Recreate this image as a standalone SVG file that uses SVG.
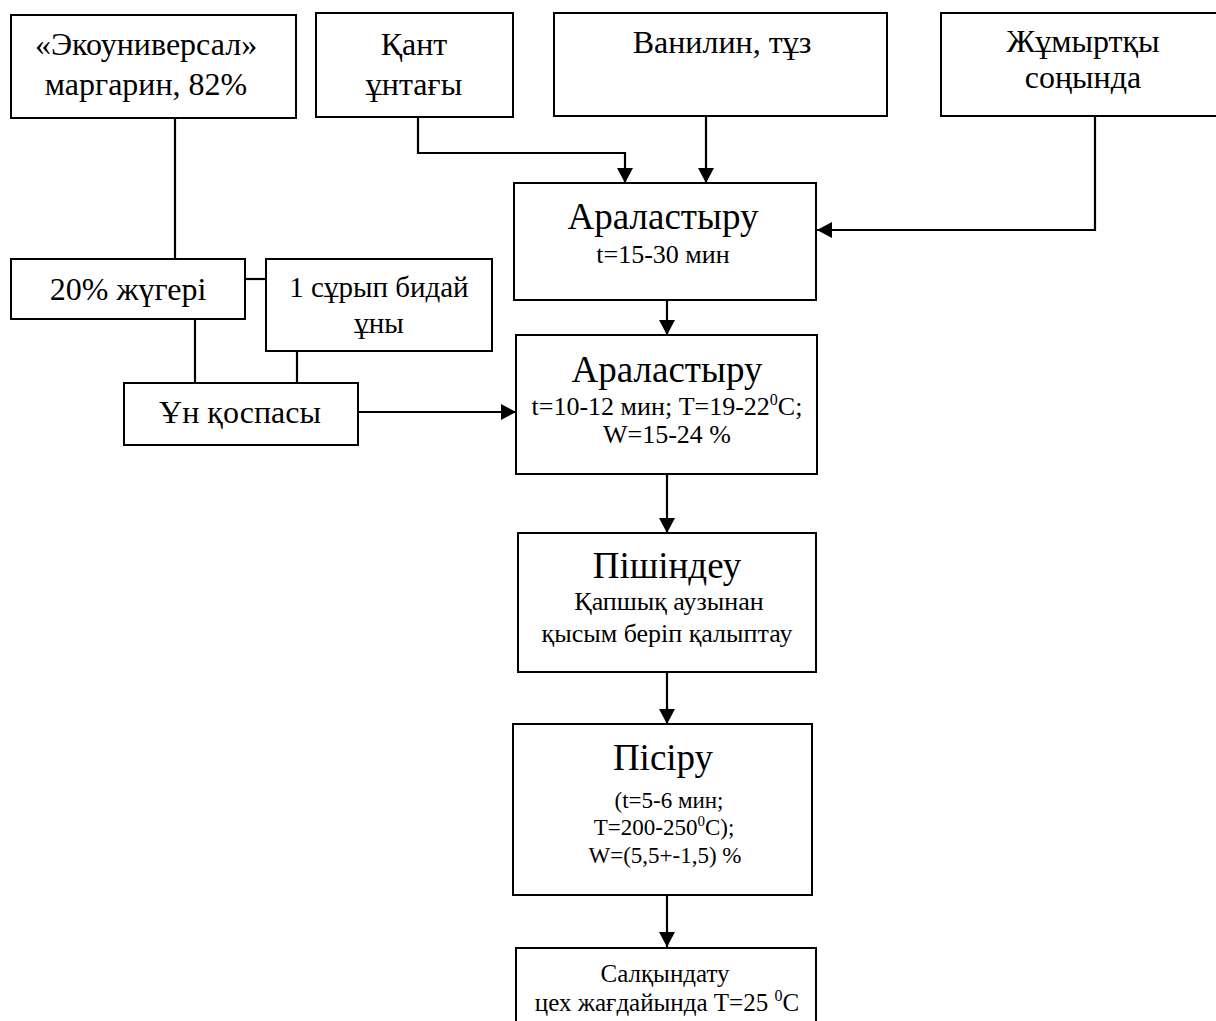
<svg xmlns="http://www.w3.org/2000/svg" width="1216" height="1021" viewBox="0 0 1216 1021">
<style>
rect{fill:#fff;stroke:#000;stroke-width:2}
text{font-family:"Liberation Serif","Times New Roman",serif;fill:#000;text-anchor:middle}
.b{font-size:32px}
.m{font-size:29px}
.L{font-size:37px}
.s{font-size:26px}
.t{font-size:23px}
.c line,.c polyline{stroke:#000;stroke-width:2.2;fill:none}
.c .a{marker-end:url(#ah)}
</style>
<defs>
<marker id="ah" markerWidth="15" markerHeight="16" refX="15" refY="8" orient="auto" markerUnits="userSpaceOnUse"><path d="M0,0 L15,8 L0,16 z" fill="#000"/></marker>
</defs>
<g class="c" id="connectors">
<line x1="175" y1="118" x2="175" y2="259"/>
<polyline class="a" points="418,117 418,153 625,153 625,183"/>
<line class="a" x1="706" y1="116" x2="706" y2="183"/>
<polyline class="a" points="1095,116 1095,230 817,230"/>
<line class="a" x1="667" y1="283" x2="667" y2="335"/>
<line x1="245" y1="279" x2="266" y2="279"/>
<line x1="195" y1="319" x2="195" y2="383"/>
<line x1="297" y1="351" x2="297" y2="383"/>
<line class="a" x1="358" y1="412" x2="516" y2="412"/>
<line class="a" x1="667" y1="474" x2="667" y2="533"/>
<line class="a" x1="667" y1="672" x2="667" y2="724"/>
<line class="a" x1="667" y1="895" x2="667" y2="947"/>
</g>
<g id="margarin"><rect x="11" y="15" width="285" height="103"/>
<text class="b" x="146" y="55">«Экоуниверсал»</text>
<text class="b" x="146" y="95">маргарин, 82%</text></g>
<g id="kant"><rect x="316" y="13" width="197" height="104"/>
<text class="b" x="414" y="55">Қант</text>
<text class="b" x="414" y="95">ұнтағы</text></g>
<g id="vanilin"><rect x="554" y="13" width="333" height="103"/>
<text class="b" x="722" y="53">Ванилин, тұз</text></g>
<g id="zhumyrtky"><rect x="941" y="13" width="285" height="103"/>
<text class="b" x="1083" y="52">Жұмыртқы</text>
<text class="b" x="1083" y="88">соңында</text></g>
<g id="aralastyru1"><rect x="514" y="183" width="302" height="117"/>
<text class="L" x="663" y="229">Араластыру</text>
<text class="s" x="663" y="263">t=15-30 мин</text></g>
<g id="zhugeri"><rect x="11" y="259" width="234" height="60"/>
<text class="b" x="128" y="300">20% жүгері</text></g>
<g id="bidai"><rect x="266" y="259" width="226" height="92"/>
<text class="m" x="379" y="297">1 сұрып бидай</text>
<text class="m" x="379" y="333">ұны</text></g>
<g id="un-kospasy"><rect x="124" y="383" width="234" height="62"/>
<text class="b" x="240" y="423">Ұн қоспасы</text></g>
<g id="aralastyru2"><rect x="516" y="335" width="301" height="139"/>
<text class="L" x="667" y="382">Араластыру</text>
<text class="s" x="667" y="415">t=10-12 мин; T=19-22<tspan font-size="16" dy="-10">0</tspan><tspan dy="10">C;</tspan></text>
<text class="s" x="667" y="443">W=15-24 %</text></g>
<g id="pishindeu"><rect x="518" y="533" width="298" height="139"/>
<text class="L" x="667" y="578">Пішіндеу</text>
<text class="s" x="669" y="610">Қапшық аузынан</text>
<text class="s" x="667" y="642">қысым беріп қалыптау</text></g>
<g id="pisiru"><rect x="513" y="724" width="299" height="171"/>
<text class="L" x="663" y="770">Пісіру</text>
<text class="t" x="669" y="808">(t=5-6 мин;</text>
<text class="t" x="664" y="835">T=200-250<tspan font-size="15" dy="-9">0</tspan><tspan dy="9">C);</tspan></text>
<text class="t" x="665" y="863">W=(5,5+-1,5) %</text></g>
<g id="salkyndatu"><rect x="516" y="948" width="300" height="90"/>
<text class="t" x="665" y="982" style="font-size:25px">Салқындату</text>
<text class="t" x="667" y="1011" style="font-size:25px">цех жағдайында T=25 <tspan font-size="16" dy="-10">0</tspan><tspan dy="10">C</tspan></text></g>
</svg>
